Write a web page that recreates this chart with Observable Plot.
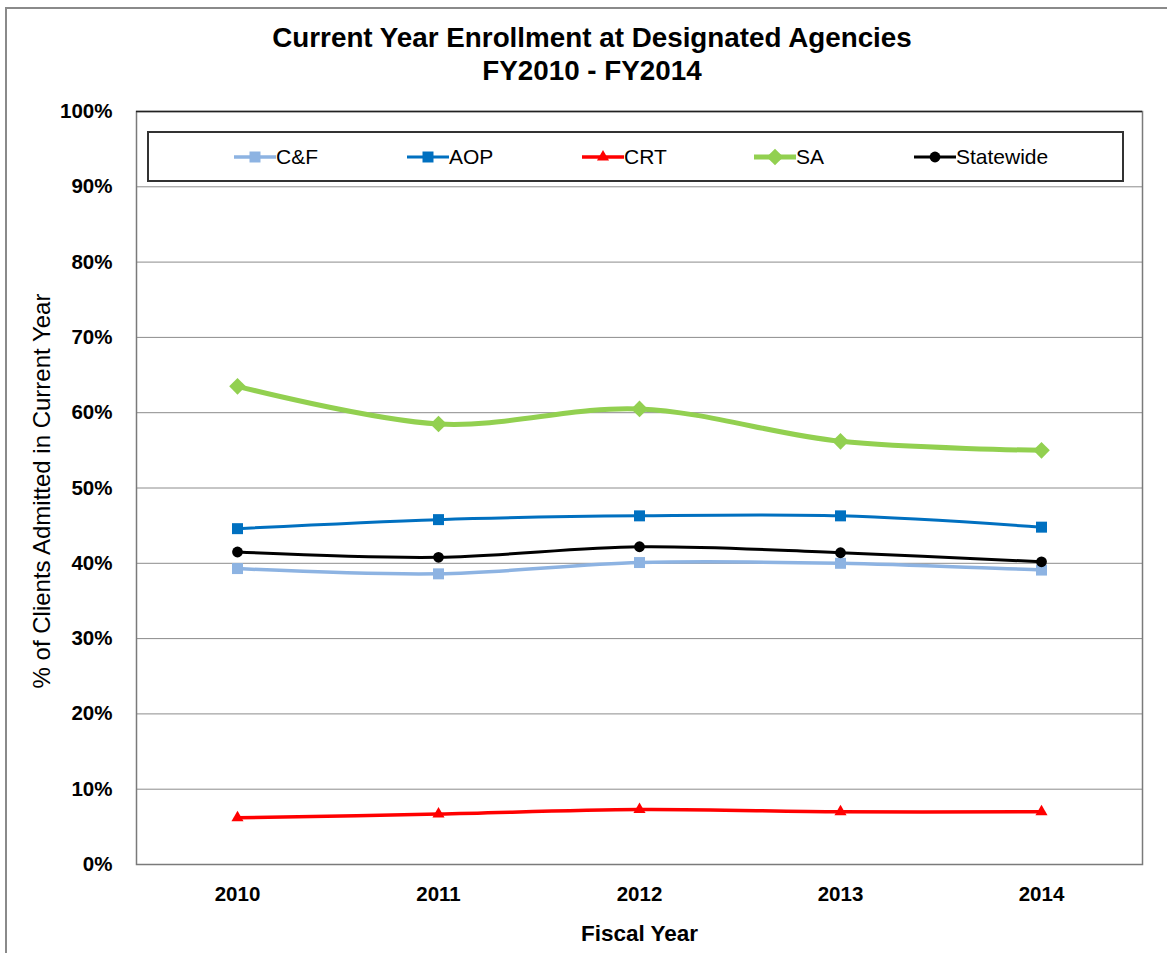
<!DOCTYPE html>
<html>
<head>
<meta charset="utf-8">
<script src="https://cdn.jsdelivr.net/npm/d3@7"></script>
<script src="https://cdn.jsdelivr.net/npm/@observablehq/plot@0.6"></script>
<style>
  html, body { margin: 0; padding: 0; background: #fff; }
  body { font-family: "Liberation Sans", Arial, sans-serif; }
  #wrap { position: relative; width: 1167px; height: 953px; overflow: hidden; }
  #border { position: absolute; left: 5px; top: 7px; width: 1300px; height: 1100px;
            border-left: 2px solid #8a8a8a; border-top: 2px solid #8a8a8a; box-sizing: border-box; }
  #title { position: relative; height: 100px; text-align: center; font-weight: bold; font-size: 27.8px;
           line-height: 33px; padding-top: 21px; box-sizing: border-box; padding-left: 17px; }
  #legend { position: absolute; left: 147px; top: 131px; width: 977px; height: 51px; box-sizing: border-box;
            border: 2px solid #333; background: #fff; }
</style>
</head>
<body>
<div id="wrap">
  <div id="border"></div>
  <div id="title">Current Year Enrollment at Designated Agencies<br>FY2010 - FY2014</div>
  <div id="chart"></div>
  <div id="legend"></div>
</div>
<script>
// ---- data ----
const years = ["2010", "2011", "2012", "2013", "2014"];
const seriesNames = ["C&F", "AOP", "CRT", "SA", "Statewide"];
const cfValues = [39.3, 38.6, 40.1, 40.0, 39.1];
const aopValues = [44.6, 45.8, 46.3, 46.3, 44.8];
const crtValues = [6.2, 6.7, 7.3, 7.0, 7.0];
const saValues = [63.5, 58.5, 60.5, 56.2, 55.0];
const statewideValues = [41.5, 40.8, 42.2, 41.4, 40.2];
const yTicks = [0, 10, 20, 30, 40, 50, 60, 70, 80, 90, 100];
const yLabel = "% of Clients Admitted in Current Year";
const xLabel = "Fiscal Year";

// ---- styles ----
const styles = {
  "C&F":       {color: "#8db3e2", width: 3.5, symbol: "square",   r: 6.2},
  "AOP":       {color: "#0070c0", width: 3,   symbol: "square",   r: 6.2},
  "CRT":       {color: "#ff0000", width: 3.5, symbol: "triangle", r: 4.5},
  "SA":        {color: "#92d050", width: 5,   symbol: "diamond2", r: 7.5},
  "Statewide": {color: "#000000", width: 3,   symbol: "circle",   r: 5.4}
};
const valuesBySeries = [cfValues, aopValues, crtValues, saValues, statewideValues];
const rows = [];
seriesNames.forEach((s, i) => years.forEach((y, j) => rows.push({series: s, year: y, value: valuesBySeries[i][j]})));

const font = "'Liberation Sans', Arial, sans-serif";
const marks = [
  Plot.gridY(yTicks, {stroke: "#8c8c8c", strokeOpacity: 1, strokeWidth: 1}),
  Plot.frame({stroke: "#7a7a7a", strokeWidth: 1.5}),
  Plot.ruleY([100], {stroke: "#222", strokeWidth: 1.5}),
  Plot.axisY(yTicks, {tickSize: 0, tickPadding: 24, tickFormat: d => d + "%", fontSize: 20.5, fontWeight: "bold", label: null}),
  Plot.axisX(years, {tickSize: 0, tickPadding: 22, fontSize: 20.5, fontWeight: "bold", label: null}),
  Plot.text([yLabel], {frameAnchor: "left", textAnchor: "middle", dx: -94, dy: 3, rotate: -90, fontSize: 24, fill: "#000"}),
  Plot.text([xLabel], {frameAnchor: "bottom", dy: 76, fontSize: 22.5, fontWeight: "bold", fill: "#000"})
];
for (const s of seriesNames) {
  const st = styles[s];
  const data = rows.filter(d => d.series === s);
  marks.push(Plot.line(data, {x: "year", y: "value", stroke: st.color, strokeWidth: st.width, curve: "catmull-rom"}));
  marks.push(Plot.dot(data, {x: "year", y: "value", fill: st.color, stroke: "none", symbol: st.symbol, r: st.r}));
}

const chart = Plot.plot({
  width: 1167, height: 853,
  marginLeft: 136, marginRight: 25, marginTop: 11, marginBottom: 89,
  style: {fontFamily: font, color: "#000", background: "transparent", overflow: "visible"},
  x: {type: "point", domain: years, padding: 0.5},
  y: {domain: [0, 100]},
  marks
});
document.getElementById("chart").appendChild(chart);

// ---- legend ----
const legendLeft = [234, 407, 582, 754, 914]; // page x of line start
const lg = d3.select("#legend").append("svg").attr("width", 977).attr("height", 51).style("position", "absolute").style("left", "-2px").style("top", "-2px");
const symbolTypes = {square: d3.symbolSquare, triangle: d3.symbolTriangle, diamond2: d3.symbolDiamond2, circle: d3.symbolCircle};
seriesNames.forEach((s, i) => {
  const st = styles[s];
  const x0 = legendLeft[i] - 147;
  const cy = 26;
  const g = lg.append("g");
  g.append("line").attr("x1", x0).attr("x2", x0 + 42).attr("y1", cy).attr("y2", cy).attr("stroke", st.color).attr("stroke-width", st.width);
  g.append("path").attr("transform", `translate(${x0 + 21},${cy})`).attr("fill", st.color)
    .attr("d", d3.symbol(symbolTypes[st.symbol], Math.PI * st.r * st.r)());
  g.append("text").attr("x", x0 + 42).attr("y", cy).attr("dy", "0.35em").attr("font-size", 21).attr("font-family", font).text(s);
});
</script>
</body>
</html>
